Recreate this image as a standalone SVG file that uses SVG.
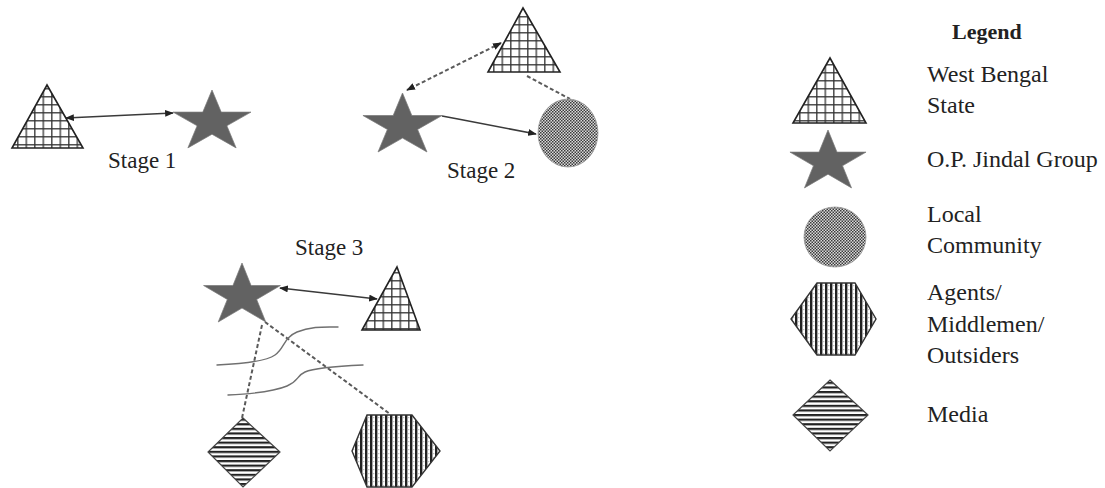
<svg xmlns="http://www.w3.org/2000/svg" xmlns:xlink="http://www.w3.org/1999/xlink" width="1105" height="488" viewBox="0 0 1105 488">
<style>
  .lbl { font-family: "Liberation Serif", "Times New Roman", serif; font-size: 23px; fill: #222; }
  .leg { font-family: "Liberation Serif", "Times New Roman", serif; font-size: 24px; fill: #222; }
  .title { font-family: "Liberation Serif", "Times New Roman", serif; font-size: 22px; font-weight: bold; fill: #222; }
  .tri { fill: url(#grid); stroke: #222; stroke-width: 1.6; stroke-linejoin: miter; }
  .star { fill: #626262; stroke: #7a7a7a; stroke-width: 0.8; }
  .circ { fill: url(#dots); stroke: #999; stroke-width: 0.8; }
  .hex { fill: url(#vstripe); stroke: #333; stroke-width: 1.4; }
  .dia { fill: url(#hstripe); stroke: #444; stroke-width: 1.2; }
  .solid { fill: none; stroke: #3a3a3a; stroke-width: 1.7; }
  .dash { fill: none; stroke: #5a5a5a; stroke-width: 2; stroke-dasharray: 4 2.5; }
  .wave { fill: none; stroke: #707070; stroke-width: 1.4; stroke-linecap: round; }
</style>
<defs>
  <pattern id="grid" patternUnits="userSpaceOnUse" width="8.5" height="8">
    <rect width="8.5" height="8" fill="#fff"/>
    <line x1="0.8" y1="0" x2="0.8" y2="8" stroke="#333" stroke-width="1.3"/>
    <line x1="0" y1="0.8" x2="8.5" y2="0.8" stroke="#333" stroke-width="1.3"/>
  </pattern>
  <pattern id="dots" patternUnits="userSpaceOnUse" width="3" height="3">
    <rect width="3" height="3" fill="#dadada"/>
    <rect width="1.5" height="1.5" fill="#3a3a3a"/>
    <rect x="1.5" y="1.5" width="1.5" height="1.5" fill="#3a3a3a"/>
  </pattern>
  <pattern id="vstripe" patternUnits="userSpaceOnUse" width="5" height="4">
    <rect width="5" height="4" fill="#fff"/>
    <rect width="2.4" height="4" fill="#222"/>
    <rect x="3.4" y="1" width="0.8" height="1.2" fill="#999"/>
  </pattern>
  <pattern id="hstripe" patternUnits="userSpaceOnUse" width="6" height="4.6">
    <rect width="6" height="4.6" fill="#fff"/>
    <rect width="6" height="2.2" fill="#222"/>
  </pattern>
  <path id="starShape" d="M0,-40 L8.98,-12.36 L38.04,-12.36 L14.52,4.72 L23.52,32.36 L0,15.28 L-23.52,32.36 L-14.52,4.72 L-38.04,-12.36 L-8.98,-12.36 Z"/>
  <marker id="arr" viewBox="0 0 10 8" refX="9" refY="4" markerWidth="9" markerHeight="7" markerUnits="userSpaceOnUse" orient="auto-start-reverse">
    <path d="M0,0 L10,4 L0,8 Z" fill="#222"/>
  </marker>
</defs>

<g id="connectors">
  <!-- Stage 1 -->
  <line class="solid" x1="66" y1="118" x2="173" y2="113" marker-start="url(#arr)" marker-end="url(#arr)"/>
  <!-- Stage 2 -->
  <line class="dash" x1="501" y1="43" x2="407" y2="90" marker-start="url(#arr)" marker-end="url(#arr)"/>
  <line class="dash" x1="527" y1="76" x2="570" y2="99"/>
  <path class="solid" d="M442,116 L458,119 L536,134" marker-end="url(#arr)"/>
  <!-- Stage 3 -->
  <line class="solid" x1="280" y1="288" x2="377" y2="299" marker-start="url(#arr)" marker-end="url(#arr)"/>
  <line class="dash" x1="262" y1="325" x2="242" y2="418"/>
  <line class="dash" x1="265" y1="322" x2="390" y2="414"/>
  <path class="wave" d="M217,365 C240,364 265,362 275,355 S283,338 297,332 S325,327 338,327"/>
  <path class="wave" d="M228,395 C250,394 275,391 287,386 S296,376 305,372 S340,366 363,365"/>
</g>

<!-- Stage 1 -->
<g id="s1-state"><polygon class="tri" points="47,85 83,148 12,148"/></g>
<g id="s1-jindal"><use href="#starShape" class="star" transform="translate(212,122) scale(1.025,0.8)"/></g>
<text class="lbl" x="108" y="168">Stage 1</text>

<!-- Stage 2 -->
<g id="s2-state"><polygon class="tri" points="523,8 560,72 488,72"/></g>
<g id="s2-jindal"><use href="#starShape" class="star" transform="translate(402.5,125.6) scale(1.04,0.815)"/></g>
<g id="s2-community"><ellipse class="circ" cx="568" cy="133" rx="30" ry="34"/></g>
<text class="lbl" x="447" y="178">Stage 2</text>

<!-- Stage 3 -->
<text class="lbl" x="295" y="255">Stage 3</text>
<g id="s3-jindal"><use href="#starShape" class="star" transform="translate(242,295.6) scale(1.01,0.815)"/></g>
<g id="s3-state"><polygon class="tri" points="397,267 420,330 362,330"/></g>
<g id="s3-media"><polygon class="dia" points="243,418 280,452 243,487 208,452"/></g>
<g id="s3-agents"><polygon class="hex" points="367,415 412,415 440,451 412,487 367,487 352,451"/></g>

<!-- Legend -->
<g id="legend">
  <text class="title" x="952" y="39">Legend</text>
  <g id="leg-state">
    <polygon class="tri" points="830,58 866,123 793,123"/>
    <text class="leg" x="927" y="82">West Bengal</text>
    <text class="leg" x="927" y="113">State</text>
  </g>
  <g id="leg-jindal">
    <use href="#starShape" class="star" transform="translate(828,162) scale(1.0,0.8)"/>
    <text class="leg" x="927" y="167">O.P. Jindal Group</text>
  </g>
  <g id="leg-community">
    <ellipse class="circ" cx="835" cy="237" rx="31" ry="30"/>
    <text class="leg" x="927" y="222">Local</text>
    <text class="leg" x="927" y="253">Community</text>
  </g>
  <g id="leg-agents">
    <polygon class="hex" points="817,283 855,283 876,319 855,355 817,355 791,319"/>
    <text class="leg" x="927" y="300">Agents/</text>
    <text class="leg" x="927" y="332">Middlemen/</text>
    <text class="leg" x="927" y="363">Outsiders</text>
  </g>
  <g id="leg-media">
    <polygon class="dia" points="830,380 868,415 830,451 793,415"/>
    <text class="leg" x="927" y="422">Media</text>
  </g>
</g>
</svg>
